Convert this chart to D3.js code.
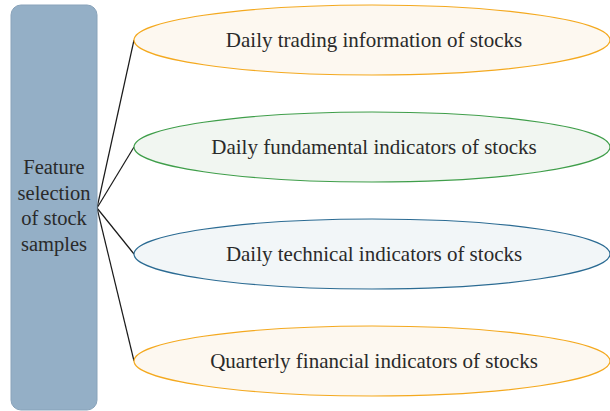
<!DOCTYPE html>
<html>
<head>
<meta charset="utf-8">
<script src="https://cdn.jsdelivr.net/npm/d3@7"></script>
<style>
	body { margin: 0; background: #fff; }
	svg { display: block; }
</style>
</head>
<body>
<svg id="chart" width="610" height="411"></svg>
<script>
// Root node text (one entry per line)
const rootLines = ["Feature", "selection", "of stock", "samples"]

// Child nodes
const features = [
	"Daily trading information of stocks",
	"Daily fundamental indicators of stocks",
	"Daily technical indicators of stocks",
	"Quarterly financial indicators of stocks",
]

const strokes = ["#f4a91f", "#3f9e4a", "#2b6b93", "#f4a91f"]
const fills = ["#fdf8f0", "#f1f6f1", "#f2f6f8", "#fdf8f0"]

const config = {
	box: { x: 11, y: 5, width: 86, height: 405, radius: 10 },
	ellipse: { left: 134, right: 610, ry: 35 },
	fontFamily: "'Liberation Serif', 'DejaVu Serif', serif",
	fontSize: 21,
	rootFontSize: 20.5,
	lineHeight: 25.5,
}

const svg = d3.select("#chart")

const y = d3.scalePoint()
	.domain(features)
	.range([40, 361])

const box = config.box
const hub = { x: box.x + box.width, y: 208 }
const rx = (config.ellipse.right - config.ellipse.left) / 2
const cx = config.ellipse.left + rx

// Connector lines
svg.append("g")
	.selectAll("line")
	.data(features)
	.join("line")
	.attr("x1", hub.x)
	.attr("y1", hub.y)
	.attr("x2", config.ellipse.left)
	.attr("y2", d => y(d))
	.attr("stroke", "#1a1a1a")
	.attr("stroke-width", 1.2)

// Root box
svg.append("rect")
	.attr("x", box.x)
	.attr("y", box.y)
	.attr("width", box.width)
	.attr("height", box.height)
	.attr("rx", box.radius)
	.attr("fill", "#94afc6")
	.attr("stroke", "#89a3ba")
	.attr("stroke-width", 1)

svg.append("g")
	.selectAll("text")
	.data(rootLines)
	.join("text")
	.attr("x", box.x + box.width / 2)
	.attr("y", (d, i) => 174 + i * config.lineHeight)
	.attr("text-anchor", "middle")
	.attr("fill", "#2a2a2a")
	.style("font-family", config.fontFamily)
	.style("font-size", `${config.rootFontSize}px`)
	.text(d => d)

// Feature ellipses
let nodes = svg.append("g")
	.selectAll("g.node")
	.data(features)
	.join("g")
	.attr("class", "node")

nodes.append("ellipse")
	.attr("cx", cx)
	.attr("cy", d => y(d))
	.attr("rx", rx)
	.attr("ry", config.ellipse.ry)
	.attr("fill", (d, i) => fills[i])
	.attr("stroke", (d, i) => strokes[i])
	.attr("stroke-width", 1.2)

nodes.append("text")
	.attr("x", cx + 2)
	.attr("y", d => y(d) + 7)
	.attr("text-anchor", "middle")
	.attr("fill", "#2a2a2a")
	.style("font-family", config.fontFamily)
	.style("font-size", `${config.fontSize}px`)
	.text(d => d)
</script>
</body>
</html>
